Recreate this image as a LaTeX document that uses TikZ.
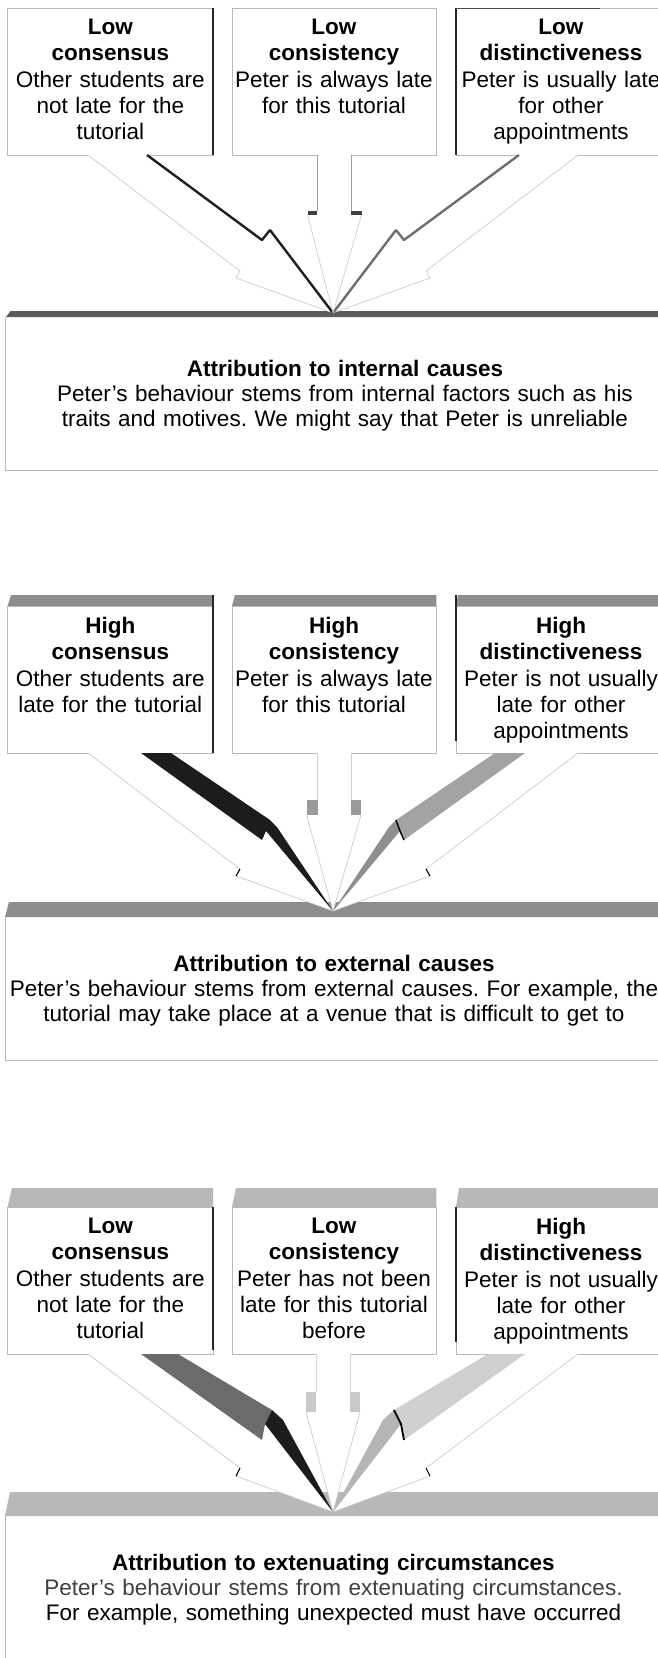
\documentclass[tikz,border=0pt]{standalone}
\usepackage{fontspec}
\setmainfont{Liberation Sans}
\frenchspacing
\definecolor{barA}{HTML}{5C5C5C}
\definecolor{barB}{HTML}{8E8E8E}
\definecolor{barC}{HTML}{B8B8B8}
\definecolor{wallDark}{HTML}{1C1C1C}
\definecolor{wallMidA}{HTML}{6E6E6E}
\definecolor{wallLightB}{HTML}{A3A3A3}
\definecolor{headLightB}{HTML}{8F8F8F}
\definecolor{wallMidC}{HTML}{6B6B6B}
\definecolor{wallLightC}{HTML}{CFCFCF}
\definecolor{headLightC}{HTML}{B5B5B5}
\definecolor{barbB}{HTML}{9A9A9A}
\definecolor{barbC}{HTML}{C9C9C9}
\begin{document}
\begin{tikzpicture}[x=1pt,y=-1pt,
  boxedge/.style={draw=gray!55,line width=0.6pt},
  heavyedge/.style={draw=black!85,line width=1.6pt},
  outline/.style={draw=gray!45,line width=0.6pt,line join=bevel},
  stem/.style={line width=0.6pt},
  face/.style={fill=white},
  boxtext/.style={anchor=north,inner sep=0pt,text width=200pt,align=center,
    font=\fontsize{22.5}{26.3}\selectfont},
  resulttext/.style={anchor=north,inner sep=0pt,text width=720pt,align=center,
    font=\fontsize{22.5}{25}\selectfont},
]
\clip (0,0) rectangle (658,1658);
\fill[white] (0,0) rectangle (658,1658);

% ---------------------------------------------------------------- panel 1
\begin{scope}[yshift=-313pt]
  \coordinate (tipA) at (333,0);
  % result block: top face and frame
  \fill[barA] (10.5,-2) -- (658,-2) -- (658,4) -- (6,4) -- cycle;
  \draw[boxedge] (5,4) -- (5,157) -- (668,157);
  % cue blocks
  \draw[boxedge] (7.6,-305) rectangle (213,-158);
  \draw[heavyedge] (213,-305) -- (213,-158);
  \draw[boxedge] (232,-305) rectangle (436.4,-158);
  \draw[boxedge] (456,-305) rectangle (668,-158);
  \draw[heavyedge] (456,-305) -- (456,-158);
  \draw[draw=black!70,line width=1pt] (456,-305) -- (600,-305);
  % arrow faces
  \fill[face] (88,-158) -- (240,-42) -- (236,-35) -- (tipA) -- (270,-83) -- (262,-73) -- (147,-158) -- cycle;
  \fill[face] (317,-158) -- (317,-102) -- (307.5,-98) -- (tipA) -- (361.5,-98) -- (351,-102) -- (351,-158) -- cycle;
  \begin{scope}[xshift=666pt,xscale=-1]
    \fill[face] (88,-158) -- (240,-42) -- (236,-35) -- (333,0) -- (270,-83) -- (262,-73) -- (147,-158) -- cycle;
  \end{scope}
  % left arrow
  \draw[outline] (88,-158) -- (240,-42) -- (236,-35) -- (tipA);
  \draw[draw=black!88,line width=2.4pt,line join=bevel] (147,-158) -- (262,-73) -- (270,-83) -- (tipA);
  % right arrow
  \begin{scope}[xshift=666pt,xscale=-1]
    \coordinate (tipAr) at (333,0);
    \draw[outline] (88,-158) -- (240,-42) -- (236,-35) -- (tipAr);
    \draw[draw=wallMidA,line width=2.4pt,line join=bevel] (147,-158) -- (262,-73) -- (270,-83) -- (tipAr);
  \end{scope}
  % middle arrow
  \draw[stem,draw=gray!75] (317,-158) -- (317,-102);
  \draw[stem,draw=gray!75] (351,-158) -- (351,-102);
  \fill[black!75] (307.5,-102) rectangle (317,-98);
  \fill[black!75] (351,-102) rectangle (361.5,-98);
  \draw[outline] (307.5,-98) -- (tipA);
  \draw[outline] (361.5,-98) -- (tipA);
  % texts
  \node[boxtext] (cueA1) at (110.3,-294) {\textbf{Low}\\\textbf{consensus}\\Other students are\\not late for the\\tutorial};
  \node[boxtext] (cueA2) at (334,-294) {\textbf{Low}\\\textbf{consistency}\\Peter is always late\\for this tutorial};
  \node[boxtext] (cueA3) at (561,-294) {\textbf{Low}\\\textbf{distinctiveness}\\Peter is usually late\\for other\\appointments};
  \node[resulttext] (resA) at (345,47) {\textbf{Attribution to internal causes}\\Peter’s behaviour stems from internal factors such as his\\traits and motives. We might say that Peter is unreliable};
\end{scope}

% ---------------------------------------------------------------- panel 2
\begin{scope}[yshift=-911pt]
  \coordinate (tipB) at (333,0);
  \fill[barB] (9,-9) -- (658,-9) -- (658,6) -- (5,6) -- cycle;
  \draw[boxedge] (5,6) -- (5,149) -- (668,149);
  % cue blocks with top faces
  \fill[barB] (11,-316) -- (213,-316) -- (213,-305) -- (7.6,-305) -- cycle;
  \fill[barB] (235,-316) -- (436.4,-316) -- (436.4,-305) -- (232,-305) -- cycle;
  \fill[barB] (458,-316) -- (668,-316) -- (668,-305) -- (456,-305) -- cycle;
  \draw[boxedge] (7.6,-305) rectangle (213,-158);
  \draw[heavyedge] (213,-316) -- (213,-158);
  \draw[boxedge] (232,-305) rectangle (436.4,-158);
  \draw[boxedge] (456,-305) rectangle (668,-158);
  \draw[heavyedge] (456,-316) -- (456,-170);
  % arrow faces
  \fill[face] (88,-158) -- (240,-42) -- (236,-35) -- (tipB) -- (266,-80) -- (262,-71) -- (141,-158) -- cycle;
  \fill[face] (317.7,-158) -- (317.7,-111) -- (306.5,-96) -- (tipB) -- (361,-96) -- (350.8,-111) -- (350.8,-158) -- cycle;
  \begin{scope}[xshift=666pt,xscale=-1]
    \fill[face] (88,-158) -- (240,-42) -- (236,-35) -- (333,0) -- (266,-80) -- (262,-71) -- (141,-158) -- cycle;
  \end{scope}
  % left arrow
  \fill[wallDark] (141,-158) -- (171,-158) -- (270,-91) -- (277,-84) -- (tipB) -- (266,-80) -- (262,-71) -- cycle;
  \draw[outline] (88,-158) -- (240,-42);
  \draw[outline] (236,-35) -- (tipB);
  \draw[draw=black,line width=1.1pt] (240,-42) -- (236,-35);
  % right arrow
  \begin{scope}[xshift=666pt,xscale=-1]
    \coordinate (tipBr) at (333,0);
    \fill[wallLightB] (141,-158) -- (171,-158) -- (270,-91) -- (266,-80) -- (262,-71) -- cycle;
    \fill[headLightB] (270,-91) -- (277,-84) -- (tipBr) -- (266,-80) -- cycle;
    \draw[draw=black,line width=1.4pt] (262,-71) -- (266,-80) -- (270,-91);
    \draw[outline] (88,-158) -- (240,-42);
    \draw[outline] (236,-35) -- (tipBr);
    \draw[draw=black,line width=1.1pt] (240,-42) -- (236,-35);
  \end{scope}
  % middle arrow
  \draw[stem,draw=gray!35] (317.7,-158) -- (317.7,-111);
  \draw[stem,draw=gray!35] (350.8,-158) -- (350.8,-111);
  \fill[barbB] (306.5,-111) rectangle (317.7,-96);
  \fill[barbB] (350.8,-111) rectangle (361,-96);
  \draw[outline] (306.5,-96) -- (tipB);
  \draw[outline] (361,-96) -- (tipB);
  % texts
  \node[boxtext] (cueB1) at (110.3,-294) {\textbf{High}\\\textbf{consensus}\\Other students are\\late for the tutorial};
  \node[boxtext] (cueB2) at (334,-294) {\textbf{High}\\\textbf{consistency}\\Peter is always late\\for this tutorial};
  \node[boxtext] (cueB3) at (561,-294) {\textbf{High}\\\textbf{distinctiveness}\\Peter is not usually\\late for other\\appointments};
  \node[resulttext] (resB) at (334,44) {\textbf{Attribution to external causes}\\Peter’s behaviour stems from external causes. For example, the\\tutorial may take place at a venue that is difficult to get to};
\end{scope}

% ---------------------------------------------------------------- panel 3
\begin{scope}[yshift=-1512pt]
  \coordinate (tipC) at (333,0);
  \fill[barC] (10,-20) -- (658,-20) -- (658,4) -- (5,4) -- cycle;
  \draw[boxedge] (5,4) -- (5,160);
  % cue blocks with top faces
  \fill[barC] (12,-324) -- (213,-324) -- (213,-305) -- (7.6,-305) -- cycle;
  \fill[barC] (236,-324) -- (436.4,-324) -- (436.4,-305) -- (232,-305) -- cycle;
  \fill[barC] (459,-324) -- (668,-324) -- (668,-305) -- (456,-305) -- cycle;
  \draw[boxedge] (7.6,-305) rectangle (213,-158);
  \draw[heavyedge] (213,-305) -- (213,-162);
  \draw[boxedge] (232,-305) rectangle (436.4,-158);
  \draw[boxedge] (456,-305) rectangle (668,-158);
  \draw[heavyedge] (456,-305) -- (456,-170);
  % arrow faces
  \fill[face] (88,-158) -- (240,-44) -- (236,-36) -- (tipC) -- (265,-88) -- (262,-72) -- (141,-158) -- cycle;
  \fill[face] (316,-158) -- (316,-120) -- (306,-100) -- (tipC) -- (360,-100) -- (350,-120) -- (350,-158) -- cycle;
  \begin{scope}[xshift=666pt,xscale=-1]
    \fill[face] (88,-158) -- (240,-44) -- (236,-36) -- (333,0) -- (265,-88) -- (262,-72) -- (141,-158) -- cycle;
  \end{scope}
  % left arrow
  \fill[wallMidC] (141,-158) -- (178,-158) -- (272,-102) -- (265,-88) -- (262,-72) -- cycle;
  \fill[wallDark] (272,-102) -- (283,-92) -- (tipC) -- (265,-88) -- cycle;
  \draw[outline] (88,-158) -- (240,-44);
  \draw[outline] (236,-36) -- (tipC);
  \draw[draw=black,line width=1.1pt] (240,-44) -- (236,-36);
  % right arrow
  \begin{scope}[xshift=666pt,xscale=-1]
    \coordinate (tipCr) at (333,0);
    \fill[wallLightC] (141,-158) -- (178,-158) -- (272,-102) -- (265,-88) -- (262,-72) -- cycle;
    \fill[headLightC] (272,-102) -- (283,-92) -- (tipCr) -- (265,-88) -- cycle;
    \draw[draw=black,line width=1.8pt] (262,-72) -- (265,-88) -- (272,-102);
    \draw[outline] (88,-158) -- (240,-44);
    \draw[outline] (236,-36) -- (tipCr);
    \draw[draw=black,line width=1.1pt] (240,-44) -- (236,-36);
  \end{scope}
  % middle arrow
  \draw[stem,draw=gray!30] (316,-158) -- (316,-120);
  \draw[stem,draw=gray!30] (350,-158) -- (350,-120);
  \fill[barbC] (306,-120) rectangle (316,-100);
  \fill[barbC] (350,-120) rectangle (360,-100);
  \draw[outline] (306,-100) -- (tipC);
  \draw[outline] (360,-100) -- (tipC);
  % texts
  \node[boxtext] (cueC1) at (110.3,-294) {\textbf{Low}\\\textbf{consensus}\\Other students are\\not late for the\\tutorial};
  \node[boxtext] (cueC2) at (334,-294) {\textbf{Low}\\\textbf{consistency}\\Peter has not been\\late for this tutorial\\before};
  \node[boxtext] (cueC3) at (561,-294) {\textbf{High}\\\textbf{distinctiveness}\\Peter is not usually\\late for other\\appointments};
  \node[resulttext] (resC) at (333.5,42) {\textbf{Attribution to extenuating circumstances}\\{\color{black!75}Peter’s behaviour stems from extenuating circumstances.}\\For example, something unexpected must have occurred};
\end{scope}
\end{tikzpicture}
\end{document}
